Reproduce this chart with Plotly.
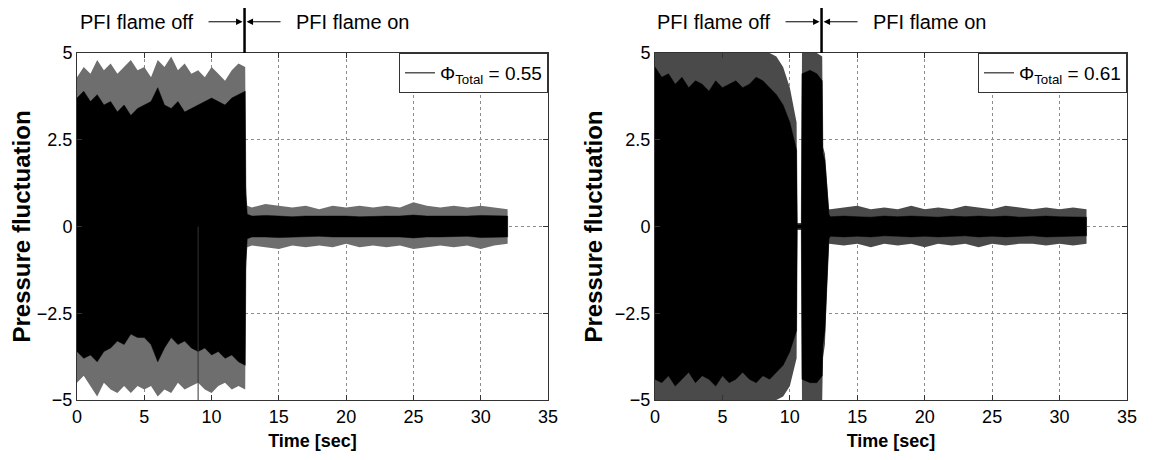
import plotly.graph_objects as go

# envelope of the pressure trace (time in sec)
# peak_* = outer grey spikes, core_* = solid black part
t_left = [0, 0.5, 1, 1.5, 2, 2.5, 3, 3.5, 4, 4.5, 5, 5.5, 6, 6.5, 7, 7.5, 8, 8.5, 9, 9.5,
          10, 10.5, 11, 11.5, 12, 12.5, 12.55, 12.65,
          13, 14, 15, 16, 17, 18, 19, 20, 21, 22, 23, 24, 25, 26, 27, 28, 29, 30, 31, 32]
peak_hi_left = [4.3, 4.6, 4.4, 4.8, 4.5, 4.7, 4.4, 4.6, 4.8, 4.5, 4.6, 4.3, 4.8, 4.6, 4.9, 4.5, 4.7, 4.4, 4.5, 4.3,
                4.6, 4.4, 4.2, 4.5, 4.7, 4.6, 1.2, 0.6,
                0.55, 0.65, 0.6, 0.55, 0.6, 0.5, 0.6, 0.55, 0.6, 0.55, 0.6, 0.55, 0.7, 0.6, 0.55, 0.6, 0.55, 0.6, 0.55, 0.5]
core_hi_left = [3.7, 3.9, 3.6, 3.8, 3.5, 3.6, 3.3, 3.5, 3.2, 3.4, 3.5, 3.6, 4.0, 3.5, 3.4, 3.6, 3.3, 3.4, 3.5, 3.6,
                3.7, 3.6, 3.5, 3.7, 3.8, 3.9, 0.9, 0.35,
                0.3, 0.32, 0.3, 0.28, 0.3, 0.3, 0.32, 0.3, 0.28, 0.3, 0.3, 0.3, 0.33, 0.3, 0.3, 0.28, 0.3, 0.32, 0.3, 0.3]
core_lo_left = [-3.6, -3.8, -3.7, -3.9, -3.6, -3.5, -3.3, -3.4, -3.1, -3.2, -3.2, -3.4, -3.9, -3.5, -3.2, -3.4, -3.3, -3.5, -3.6, -3.5,
                -3.7, -3.6, -3.8, -3.7, -3.9, -4.0, -1.0, -0.35,
                -0.3, -0.3, -0.32, -0.3, -0.3, -0.28, -0.3, -0.3, -0.32, -0.3, -0.3, -0.3, -0.33, -0.3, -0.3, -0.3, -0.28, -0.32, -0.3, -0.3]
peak_lo_left = [-4.5, -4.3, -4.6, -4.9, -4.5, -4.7, -4.8, -4.6, -4.8, -4.6, -4.7, -4.6, -4.9, -4.7, -4.8, -4.5, -4.7, -4.6, -4.5, -4.7,
                -4.8, -4.6, -4.5, -4.7, -4.6, -4.7, -1.3, -0.6,
                -0.55, -0.6, -0.65, -0.55, -0.6, -0.55, -0.6, -0.5, -0.6, -0.55, -0.6, -0.55, -0.65, -0.6, -0.55, -0.6, -0.55, -0.65, -0.55, -0.5]
spike_t_left = [9.0]
spike_lo_left = [-5.0]

t_right = [0, 0.5, 1, 1.5, 2, 2.5, 3, 3.5, 4, 4.5, 5, 5.5, 6, 6.5, 7, 7.5, 8, 8.5, 9, 9.5, 10,
           10.5, 10.55, 10.85, 10.9, 11.5, 12, 12.4, 12.45, 12.6, 12.75, 12.9,
           13, 14, 15, 16, 17, 18, 19, 20, 21, 22, 23, 24, 25, 26, 27, 28, 29, 30, 31, 32]
peak_hi_right = [5, 5, 5, 5, 5, 5, 5, 5, 5, 5, 5, 5, 5, 5, 5, 5, 5, 5, 4.9, 4.6, 4.0,
                 3.0, 0.1, 0.1, 5, 5, 5, 4.9, 2.3, 2.1, 1.3, 0.5,
                 0.5, 0.55, 0.6, 0.5, 0.55, 0.5, 0.6, 0.5, 0.55, 0.5, 0.6, 0.55, 0.5, 0.6, 0.55, 0.5, 0.55, 0.5, 0.55, 0.5]
core_hi_right = [4.6, 4.3, 4.4, 4.1, 4.3, 4.0, 4.2, 4.1, 3.9, 4.2, 4.0, 4.1, 4.2, 4.0, 4.1, 4.3, 4.2, 4.0, 3.8, 3.5, 3.0,
                 2.2, 0.05, 0.05, 4.4, 4.5, 4.4, 4.2, 2.1, 1.9, 1.1, 0.35,
                 0.28, 0.3, 0.28, 0.27, 0.3, 0.28, 0.3, 0.28, 0.27, 0.3, 0.28, 0.3, 0.28, 0.3, 0.27, 0.28, 0.3, 0.28, 0.28, 0.27]
core_lo_right = [-4.4, -4.5, -4.3, -4.6, -4.4, -4.2, -4.5, -4.3, -4.4, -4.6, -4.3, -4.5, -4.4, -4.2, -4.4, -4.5, -4.3, -4.4, -4.2, -4.0, -3.6,
                 -3.0, -0.05, -0.05, -4.4, -4.5, -4.5, -4.3, -3.4, -3.0, -1.5, -0.35,
                 -0.28, -0.3, -0.28, -0.3, -0.27, -0.28, -0.3, -0.28, -0.3, -0.28, -0.27, -0.3, -0.28, -0.3, -0.28, -0.27, -0.3, -0.28, -0.28, -0.27]
peak_lo_right = [-5, -5, -5, -5, -5, -5, -5, -5, -5, -5, -5, -5, -5, -5, -5, -5, -5, -5, -5, -4.9, -4.6,
                 -3.8, -0.1, -0.1, -5, -5, -5, -5, -3.8, -3.4, -1.8, -0.5,
                 -0.5, -0.55, -0.5, -0.6, -0.5, -0.55, -0.5, -0.6, -0.5, -0.55, -0.5, -0.6, -0.5, -0.55, -0.5, -0.5, -0.55, -0.5, -0.55, -0.5]

flame_switch = [12.45, 12.35]   # PFI flame switched on (left, right)
phi_total = [0.55, 0.61]

x_ticks = [0, 5, 10, 15, 20, 25, 30, 35]
y_ticks = [-5, -2.5, 0, 2.5, 5]
y_ticklabels = ["\u22125", "\u22122.5", "0", "2.5", "5"]

FONT = "Liberation Sans, Arial, sans-serif"

# page has an 8px body margin, so the figure is a bit smaller than the window
W, H = 1159, 452


def band(t, hi, lo):
    return t + t[::-1], hi + lo[::-1]


fig = go.Figure()

panels = [
    ("x", "y", "legend", t_left, peak_hi_left, core_hi_left, core_lo_left, peak_lo_left, "#6e6e6e"),
    ("x2", "y2", "legend2", t_right, peak_hi_right, core_hi_right, core_lo_right, peak_lo_right, "#4a4a4a"),
]

for i, (xa, ya, lg, t, phi, chi, clo, plo, grey) in enumerate(panels):
    bx, by = band(t, phi, plo)
    fig.add_trace(go.Scatter(x=bx, y=by, fill="toself", fillcolor=grey, mode="lines",
                             line=dict(width=0, color=grey), hoverinfo="skip",
                             showlegend=False, xaxis=xa, yaxis=ya))
    bx, by = band(t, chi, clo)
    fig.add_trace(go.Scatter(x=bx, y=by, fill="toself", fillcolor="black", mode="lines",
                             line=dict(width=0.5, color="black"), hoverinfo="skip",
                             showlegend=False, xaxis=xa, yaxis=ya))
    # legend entry (line sample)
    fig.add_trace(go.Scatter(x=[None], y=[None], mode="lines", line=dict(color="black", width=1),
                             name="\u03a6<sub>Total</sub> = %.2f" % phi_total[i],
                             legend=lg, xaxis=xa, yaxis=ya))

# single dropout spike on the left trace
for st, sl in zip(spike_t_left, spike_lo_left):
    fig.add_trace(go.Scatter(x=[st, st], y=[0, sl], mode="lines", line=dict(color="#333333", width=1),
                             hoverinfo="skip", showlegend=False, xaxis="x", yaxis="y"))

axis_common = dict(showline=True, linecolor="#333333", linewidth=1, mirror="ticks",
                   ticks="inside", ticklen=5, tickcolor="#333333",
                   showgrid=True, gridcolor="#8c8c8c", griddash="dot", gridwidth=1,
                   zeroline=False, automargin=False,
                   tickfont=dict(family=FONT, size=18, color="black"))

x_dom = [[69 / W, 540 / W], [647 / W, 1119 / W]]
y_dom = [1 - 392 / H, 1 - 45 / H]

layout = dict(
    width=W, height=H,
    margin=dict(l=0, r=0, t=0, b=0),
    paper_bgcolor="white", plot_bgcolor="white",
    font=dict(family=FONT, color="black"),
    showlegend=True,
)
for i, (xn, yn) in enumerate([("xaxis", "yaxis"), ("xaxis2", "yaxis2")]):
    ax_id = "x" if i == 0 else "x2"
    ay_id = "y" if i == 0 else "y2"
    layout[xn] = dict(axis_common, domain=x_dom[i], anchor=ay_id, range=[0, 35],
                      tickvals=x_ticks,
                      title=dict(text="Time [sec]", standoff=8,
                                 font=dict(family=FONT, size=18, weight="bold")))
    layout[yn] = dict(axis_common, domain=y_dom, anchor=ax_id, range=[-5, 5],
                      tickvals=y_ticks, ticktext=y_ticklabels,
                      title=dict(text="Pressure fluctuation", standoff=5,
                                 font=dict(family=FONT, size=24, weight="bold")))
    lg = "legend" if i == 0 else "legend2"
    layout[lg] = dict(x=x_dom[i][1], y=y_dom[1], xanchor="right", yanchor="top",
                      bgcolor="white", bordercolor="#333333", borderwidth=1,
                      font=dict(family=FONT, size=19, color="black"))

fig.update_layout(**layout)

shapes = []
anns = []
for i, xs in enumerate(flame_switch):
    xr = "x" if i == 0 else "x2"
    yr = "y domain" if i == 0 else "y2 domain"
    # thick divider above the plot
    shapes.append(dict(type="line", xref=xr, yref=yr, x0=xs, x1=xs, y0=1, y1=1.137,
                       line=dict(color="black", width=2.5)))
    # labels with arrows pointing at the divider
    anns.append(dict(x=xs, y=1.09, xref=xr, yref=yr, text="PFI flame off", showarrow=True,
                     arrowhead=2, arrowsize=1.3, arrowwidth=1, arrowcolor="black",
                     ax=-108, ay=0, standoff=2, startstandoff=14,
                     font=dict(family=FONT, size=20, color="black")))
    anns.append(dict(x=xs, y=1.09, xref=xr, yref=yr, text="PFI flame on", showarrow=True,
                     arrowhead=2, arrowsize=1.3, arrowwidth=1, arrowcolor="black",
                     ax=108, ay=0, standoff=2, startstandoff=14,
                     font=dict(family=FONT, size=20, color="black")))
fig.update_layout(annotations=anns, shapes=shapes)

fig.write_html("out.html")
